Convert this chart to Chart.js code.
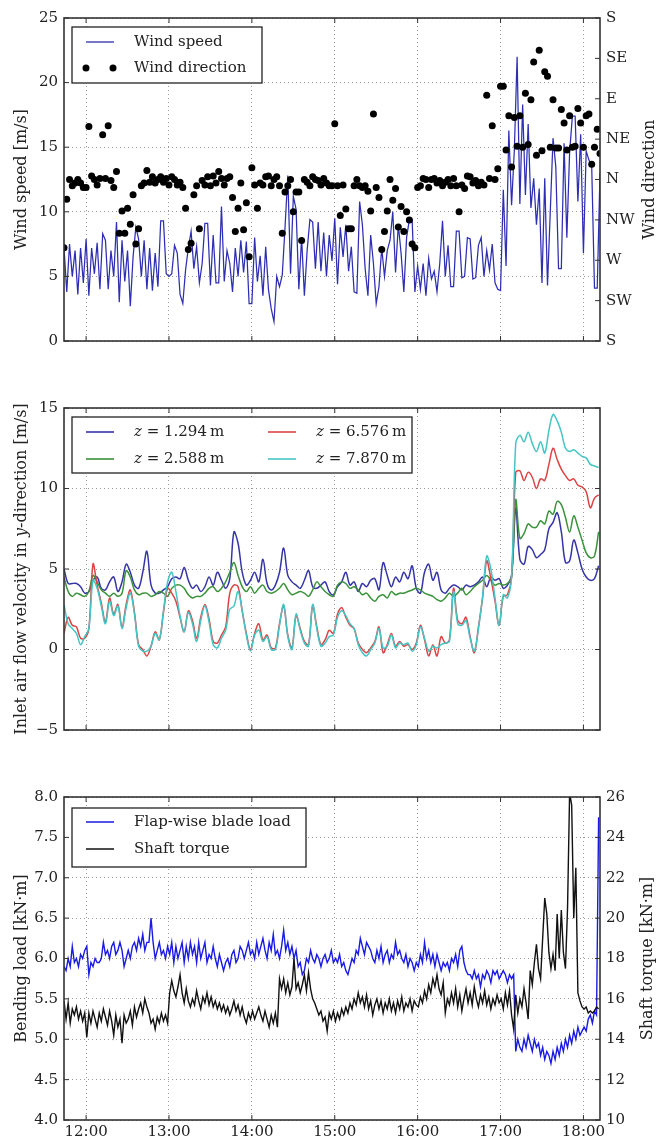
<!DOCTYPE html>
<html>
<head>
<meta charset="utf-8">
<script src="https://cdn.jsdelivr.net/npm/chart.js@4/dist/chart.umd.min.js"></script>
<style>
  body { margin: 0; background: #fff; width: 665px; height: 1138px; position: relative; overflow: hidden; }
  canvas { position: absolute; left: 0; }
</style>
</head>
<body>
<canvas id="wind" width="665" height="360" style="top:0px"></canvas>
<canvas id="flow" width="665" height="370" style="top:380px"></canvas>
<canvas id="load" width="665" height="358" style="top:780px"></canvas>
<script>
// all series start at 11:44
const startTime = '11:44';
const hourTicks = [12, 13, 14, 15, 16, 17, 18];
const dirLabels = ['S', 'SW', 'W', 'NW', 'N', 'NE', 'E', 'SE', 'S'];

// --- wind: one sample every 2 min ---
const windStepMin = 2;
const windSpeed = [
  7.2, 3.8, 7.5, 5.0, 7.0, 3.6, 7.2, 4.5, 7.9, 3.5, 7.2, 5.2, 7.6, 4.0, 8.3, 7.8, 4.0, 7.0, 5.0, 9.2,
  3.0, 7.8, 4.6, 7.0, 2.7, 6.5, 8.8, 7.9, 5.0, 7.8, 4.0, 7.2, 3.9, 6.8, 4.2, 9.3, 9.3, 5.2,
  5.0, 5.2, 7.4, 6.8, 3.6, 2.9, 5.5, 7.2, 8.5, 5.6, 7.3, 4.5, 6.0, 9.1, 9.1, 4.3, 8.2, 4.5, 4.5, 10.4,
  4.6, 7.0, 6.0, 3.8, 7.2, 5.0, 7.8, 5.3, 7.7, 2.9,
  2.9, 8.0, 4.6, 6.6, 3.5, 7.3, 4.0, 2.5, 1.5, 5.0, 4.2, 5.1, 8.8, 12.8, 5.2, 11.2, 10.2, 4.0, 8.0, 3.5,
  7.0, 9.4, 9.2, 5.6, 9.2, 5.4, 8.4, 5.0, 8.2, 6.2,
  9.5, 4.4, 8.8, 6.5, 9.0, 5.4, 7.3, 3.8, 3.7, 10.8, 9.0, 5.6, 3.5, 8.2, 6.0, 2.9, 4.2, 7.2, 5.0, 7.0,
  7.8, 10.0, 5.3, 9.0, 6.8, 3.8, 8.0, 9.4, 9.4, 3.8,
  5.8, 4.0, 6.0, 3.5, 6.4, 4.8, 5.4, 3.8, 6.0, 9.3, 5.0, 7.4, 4.2, 4.2, 8.5, 8.5, 4.9, 5.0, 8.0, 7.9,
  4.8, 4.9, 7.4, 8.0, 5.0, 7.0, 5.5, 7.5, 4.5, 4.0,
  3.9, 11.7, 5.8, 16.3, 10.5, 14.8, 22.0, 10.6, 18.3, 11.3, 16.8, 10.3, 12.6, 9.0, 11.8, 4.5, 12.6, 4.3, 10.0, 15.7,
  13.5, 5.6, 5.6, 15.3, 8.0, 14.6, 17.4, 17.4, 10.8, 16.0, 6.8, 14.7, 14.0, 13.5, 4.1, 4.1, 13.0
];
// degrees from north, positive towards east (S = +/-180)
const windDir = [
  -76, -22, 0, -7, -4, 0, -4, -9, -9, 59,
  4, 0, -6, 1, 50, 1, 60, -1, -9, 9,
  -60, -35, -60, -32, -50, -17, -72, -55, -7, -4,
  10, -3, 3, -4, 0, 3, -3, 1, -6, 3,
  0, -6, -3, -9, -32, -78, -71, -17, -7, -55,
  -1, -6, 3, -7, 4, -4, 9, 1, -6, 1,
  3, -20, -58, -32, -4, -56, -26, -86, 13, -6,
  -32, -4, -6, 3, 4, -7, 0, 3, -7, -60,
  -14, -7, 0, -36, -14, -14, -68, 0, -3, -7,
  3, 0, -1, -6, 1, -4, -7, -7, 62, -7,
  -40, -6, -33, -55, -55, -7, 0, -7, -9, -7,
  -13, -35, 73, -9, -20, -78, -58, -35, 0, -23,
  -10, -53, -30, -58, -36, -45, -72, -76, -9, -7,
  1, 0, -9, 0, 1, -4, -1, -7, -3, 0,
  -7, 1, -7, -36, -6, -10, 4, 3, -4, -1,
  -7, -3, -6, 94, 1, 60, 0, 12, 104, 104,
  33, 71, 14, 69, 37, 71, 36, 96, 39, 89,
  131, 27, 144, 32, 120, 115, 36, 89, 35, 35,
  78, 63, 33, 71, 36, 37, 79, 63, 36, 71,
  73, 17, 36, 56, 29
];

// --- inlet flow: one sample every 3 min ---
const flowStepMin = 3;
const flowZ1 = [
  5.0, 4.1, 4.1, 4.1, 3.9, 3.5, 3.6, 4.3, 4.5, 3.8, 3.7, 4.2, 4.5, 3.6, 4.2, 5.3, 4.8, 4.0, 3.8, 4.8,
  6.1, 4.0, 3.5, 3.5, 3.7, 3.9, 4.4, 4.5, 4.4, 5.1, 4.3, 3.8, 4.0, 3.6, 3.9, 4.5, 4.0, 4.8, 4.3, 3.8,
  4.4, 7.3, 6.6, 4.8, 4.0, 4.3, 4.8, 4.2, 5.6, 4.1, 3.7, 4.0, 4.8, 6.3, 4.6, 4.2, 4.0, 3.8, 4.3, 4.9,
  3.9, 3.8, 4.0, 4.2, 3.6, 3.4, 3.9, 4.2, 4.8, 4.0, 4.2, 3.6, 4.1, 3.9, 4.3, 4.4, 3.7, 5.4, 4.6, 3.9,
  4.5, 4.2, 4.8, 4.4, 5.2, 3.8, 3.5, 4.8, 5.3, 4.3, 4.8, 3.7, 3.5, 3.8, 4.0, 3.9, 3.7, 4.0, 3.9, 4.0,
  4.2, 4.5, 3.9, 4.5, 4.3, 4.4, 3.8, 4.0, 4.6, 8.8, 5.6, 5.3, 6.4, 6.2, 5.7, 5.9, 6.2, 7.5, 7.9, 8.5,
  7.3, 5.4, 5.5, 6.8, 6.0, 5.0, 4.5, 4.3, 4.4, 5.2
];
const flowZ2 = [
  4.5, 3.6, 3.3, 3.5, 3.4, 3.3, 3.6, 4.6, 4.2, 3.7, 3.5, 3.3, 3.5, 3.3, 3.5, 4.9, 4.5, 3.7, 3.4, 3.5,
  3.5, 3.3, 3.4, 3.6, 3.5, 3.3, 3.8, 4.0, 4.0, 3.8, 3.4, 3.2, 3.3, 3.3, 3.5, 3.8, 3.9, 3.6, 3.8, 4.2,
  4.8, 5.4, 4.6, 3.9, 3.6, 3.9, 3.5, 3.8, 4.0, 3.6, 3.5, 3.6, 3.8, 4.1, 3.7, 3.4, 3.5, 3.6, 3.5, 3.3,
  3.7, 4.2, 3.9, 3.6, 3.4, 3.3, 4.0, 4.2, 4.1, 3.8, 3.9, 3.7, 3.4, 3.5, 3.2, 3.0, 3.3, 3.4, 3.2, 3.6,
  3.4, 3.5, 3.5, 3.6, 3.7, 3.8, 3.7, 3.5, 3.4, 3.3, 3.1, 3.0, 3.2, 3.5, 3.3, 3.5, 3.8, 3.4, 3.6, 3.9,
  4.1, 4.3, 4.6, 4.3, 4.0, 4.1, 4.0, 4.1, 4.5, 9.3, 6.9, 7.2, 7.8, 7.6, 7.6, 8.0, 7.8, 8.6, 8.4, 9.2,
  9.0, 8.2, 7.3, 8.3, 7.6, 6.8, 6.0, 5.7, 5.8, 7.3
];
const flowZ3 = [
  1.0, 2.0, 1.5, 1.4, 0.7, 0.7, 1.3, 5.3, 4.0, 2.9, 1.7, 3.2, 2.2, 2.8, 1.4, 2.8, 3.7, 2.3, 0.3, 0.0,
  -0.4, 0.2, 1.1, 0.6, 2.3, 3.8, 3.5, 3.0, 2.0, 1.1, 2.4, 1.8, 0.7, 2.0, 2.8, 1.9, 0.5, 0.4, 0.9, 1.4,
  3.5, 4.0, 3.9, 2.4, 1.0, 0.0, 1.0, 1.6, 0.6, 0.9, 0.1, 0.1, 1.6, 2.7, 0.9, 0.1, 2.1, 1.3, 0.5, 0.3,
  2.7, 1.4, 0.3, 0.6, 1.2, 1.0, 2.2, 2.6, 2.0, 1.5, 1.3, 0.4, 0.0, -0.2, 0.1, 0.5, 1.4, -0.2, 0.3, 1.0,
  0.2, 0.5, 0.2, 0.3, 0.0, 0.4, 1.5, 0.6, -0.4, 0.3, -0.4, 0.8, 0.4, 0.6, 3.8, 1.8, 1.6, 2.0, 0.8, -0.2,
  1.4, 3.2, 5.5, 4.4, 3.0, 1.5, 3.3, 3.4, 4.5, 11.0, 11.1, 10.5, 11.0, 10.7, 10.0, 10.6, 10.5, 11.5, 12.5, 11.8,
  11.2, 10.8, 10.5, 10.6, 10.2, 10.1, 9.8, 8.8, 9.4, 9.6
];
const flowZ4 = [
  2.8, 1.6, 1.3, 1.0, 0.3, 0.8, 1.3, 4.3, 3.8, 2.7, 1.6, 3.0, 2.1, 2.7, 1.3, 2.6, 3.5, 2.2, 0.2, -0.1,
  -0.1, 0.2, 1.0, 0.6, 2.4, 4.2, 4.8, 3.6, 2.1, 1.1, 2.3, 1.6, 0.5, 1.8, 2.7, 1.7, 0.3, 0.1, 0.7, 1.2,
  2.5, 2.7, 3.6, 2.4, 0.9, -0.1, 0.9, 1.2, 0.5, 0.8, 0.0, 0.0, 1.5, 2.8, 0.8, 0.0, 2.2, 1.2, 0.4, 0.2,
  2.8, 1.3, 0.2, 0.4, 0.8, 0.9, 2.0, 2.4, 2.1, 1.6, 1.3, 0.3, -0.2, -0.4, 0.0, 0.4, 1.3, 0.1, 0.2, 0.9,
  0.1, 0.4, 0.3, 0.4, -0.1, 0.3, 1.4, 0.7, -0.1, 0.2, 0.1, 0.3, 0.4, 0.5, 3.6, 1.6, 1.5, 1.8, 0.7, -0.1,
  1.3, 3.3, 5.8, 5.0, 3.2, 1.5, 3.4, 3.2, 4.5, 12.8, 13.3, 12.9, 13.5, 12.8, 12.3, 12.9, 12.2, 13.6, 14.6, 14.2,
  13.5, 12.5, 12.3, 12.4, 12.2, 12.0, 11.9, 11.5, 11.4, 11.3
];
const flowLabels = ['1.294', '2.588', '6.576', '7.870'];

// --- loads: one sample every 1.5 min ---
const loadStepMin = 1.5;
const bladeLoad = [
  5.9, 5.85, 6.0, 5.9, 6.15, 5.95, 6.0, 5.9, 6.05, 6.0, 6.1,
  6.15, 5.8, 5.95, 5.9, 6.0, 5.95, 5.95, 6.0, 6.2, 6.05, 6.1, 6.0, 6.15, 6.2, 6.05, 6.1, 6.2, 6.1, 5.9, 6.0,
  6.1, 6.0, 6.15, 6.2, 6.1, 6.25, 6.15, 6.3, 6.1, 6.2, 6.2, 6.5, 6.2, 6.0, 6.1, 6.2, 6.05, 6.1, 6.0, 6.15,
  6.05, 6.2, 5.95, 6.15, 6.0, 6.1, 6.2, 5.95, 6.15, 6.0, 6.2, 6.05, 6.15, 5.95, 6.2, 6.0, 6.1, 6.2, 5.95, 6.05,
  6.0, 6.15, 6.0, 5.9, 6.05, 5.95, 5.85, 5.95, 6.0, 5.9, 6.05, 6.1, 5.95, 6.0, 6.15, 6.1, 6.0, 6.1, 6.2, 6.05,
  6.1, 6.0, 6.2, 6.05, 6.15, 6.25, 6.1, 6.0, 6.2, 6.1, 6.3, 6.05, 6.1, 6.0, 6.15, 6.35, 6.1, 6.2, 6.05, 6.15,
  6.0, 6.1, 5.9, 5.95, 5.8, 5.85, 6.0, 5.95, 6.1, 6.0, 5.95, 6.05, 6.0, 5.9, 6.0, 6.05, 5.95, 6.0, 6.1, 5.95,
  6.0, 5.95, 6.05, 5.9, 5.95, 5.85, 5.8, 5.9, 6.0, 5.95, 6.1, 6.05, 6.25, 6.15, 6.05, 6.2, 6.15, 6.1, 6.0, 5.95,
  6.1, 6.0, 6.15, 5.95, 6.05, 6.1, 5.95, 6.05, 6.0, 6.2, 6.05, 6.1, 6.0, 5.95, 6.05, 5.9, 6.0, 5.95, 5.85, 5.95,
  5.9, 6.05, 5.95, 6.2, 6.0, 6.1, 5.95, 6.05, 5.9, 6.05, 5.95, 5.85, 5.95, 5.9, 5.95, 5.85, 6.0, 5.95, 6.05, 5.9,
  6.1, 6.15, 5.95, 5.85, 5.8, 5.8, 5.75, 5.85, 5.75, 5.8, 5.65, 5.8, 5.75, 5.85, 5.8, 5.7, 5.85, 5.8, 5.85, 5.75,
  5.8, 5.85, 5.8, 5.7, 5.8, 5.75, 5.8, 4.85, 5.0, 4.9, 4.85, 5.0, 4.9, 5.05, 4.95, 4.85, 5.0, 4.9, 4.95, 4.8,
  4.9, 4.75, 4.85, 4.8, 4.7, 4.85, 4.75, 4.9, 4.8, 4.95, 4.85, 5.0, 4.9, 5.05, 4.95, 5.1, 5.0, 5.15, 5.05, 5.1,
  5.15, 5.1, 5.25, 5.3, 5.2, 5.35, 5.3, 7.75
];
const shaftTorque = [
  15.9, 15.0, 15.8, 14.8, 15.5, 15.2, 15.6, 15.0, 15.4, 14.9, 15.3,
  14.1, 15.3, 14.8, 15.4, 15.0, 14.6, 15.3, 14.9, 15.5, 15.1, 14.7, 15.4, 14.9, 14.2, 15.2, 14.6, 15.0, 13.8, 15.2, 14.8,
  15.0, 15.4, 14.7, 15.6, 15.1, 15.5, 15.8, 15.3, 16.0, 15.6, 15.3, 14.8, 15.0, 14.5, 15.1, 14.8, 15.3, 14.9, 15.2, 14.8,
  16.3, 16.9, 16.4, 16.1, 16.6, 17.2, 16.3, 15.8, 16.5, 15.9, 15.6, 16.0, 15.7, 16.4, 15.9, 15.5, 16.1, 15.8, 16.3, 15.7,
  16.1, 15.6, 15.9, 15.5, 15.8, 15.4, 15.7, 15.3, 15.6, 15.2, 15.5, 15.9, 15.4, 15.7, 15.2, 15.6, 15.1, 14.8, 15.3, 15.0,
  15.4, 15.0, 15.3, 15.6, 15.2, 14.9, 15.4, 15.0, 14.6, 15.2, 14.8, 15.3, 14.6, 17.0, 16.5, 17.0, 16.3, 16.8, 16.2, 16.6,
  18.0, 16.5, 16.8, 16.3, 16.7, 17.2, 16.4, 17.3, 16.5, 16.0, 15.8, 15.5, 15.2, 15.4, 14.9, 15.1, 14.4, 15.3, 15.0, 15.4,
  14.9, 15.3, 15.0, 15.5, 15.2, 15.6, 15.3, 15.8, 15.5, 16.0, 15.7, 16.3, 15.8, 16.1, 15.6, 16.2, 15.5, 15.9, 15.2, 15.7,
  16.0, 15.5, 15.9, 15.3, 15.8, 15.5, 16.0, 15.4, 15.8, 15.3, 15.9, 15.5, 16.1, 15.4, 15.8, 15.6, 16.0, 15.4, 15.9, 15.7,
  15.6, 16.1, 15.8, 16.4, 16.0, 16.7, 16.3, 17.0, 16.6, 17.2, 16.5, 16.2, 16.8, 15.3, 16.0, 15.7, 16.3, 15.8, 16.5, 15.6,
  16.2, 15.4, 16.0, 16.5, 15.8, 16.3, 15.7, 16.6, 16.0, 15.6, 16.2, 15.8, 16.4, 15.7, 16.1, 15.5, 16.0, 15.7, 16.2, 15.8,
  16.0, 15.5, 16.3, 15.7, 16.4, 15.2, 14.5, 16.2, 15.3, 16.0, 15.6, 16.5, 15.8, 15.0, 17.4, 16.7, 17.8, 18.7, 17.5, 17.0,
  19.0, 21.0, 20.2, 18.3, 17.5, 18.2, 17.4, 20.2, 18.0, 20.4, 18.3, 17.5, 20.5, 26.2, 25.6, 20.0, 22.5, 16.3, 15.9, 15.6,
  15.5, 15.6, 15.3, 15.4, 15.3, 15.4, 15.6, 15.5
];

const FONT = '"DejaVu Serif", serif';
const TEXT = '#222';

function startHours() {
  const [h, m] = startTime.split(':').map(Number);
  return h + m / 60;
}

function series(values, stepMin) {
  const t0 = startHours();
  return values.map((v, i) => ({ x: t0 + i * stepMin / 60, y: v }));
}

// draws a run of text pieces, some in italic
function drawParts(ctx, parts, x, y, size, center) {
  const fontOf = p => (p[1] ? 'italic ' : '') + size + 'px ' + FONT;
  let total = 0;
  parts.forEach(p => { ctx.font = fontOf(p); total += ctx.measureText(p[0]).width; });
  let cx = center ? x - total / 2 : x;
  parts.forEach(p => {
    ctx.font = fontOf(p);
    ctx.fillText(p[0], cx, y);
    cx += ctx.measureText(p[0]).width;
  });
}

// frame, inward ticks, axis titles and the boxed legend, matplotlib style
const decor = {
  id: 'decor',
  afterDraw(chart, args, opts) {
    const { ctx, chartArea: a } = chart;
    ctx.save();
    ctx.strokeStyle = '#333';
    ctx.lineWidth = 1;
    const seg = (x1, y1, x2, y2) => { ctx.beginPath(); ctx.moveTo(x1, y1); ctx.lineTo(x2, y2); ctx.stroke(); };

    const xs = chart.scales.x;
    xs.ticks.forEach(t => {
      const px = xs.getPixelForValue(t.value);
      seg(px, a.bottom, px, a.bottom - 5);
      seg(px, a.top, px, a.top + 5);
    });
    const yl = chart.scales.y;
    yl.ticks.forEach(t => {
      const py = yl.getPixelForValue(t.value);
      seg(a.left, py, a.left + 5, py);
      if (!chart.scales.y2) seg(a.right, py, a.right - 5, py);
    });
    if (chart.scales.y2) {
      const yr = chart.scales.y2;
      yr.ticks.forEach(t => {
        const py = yr.getPixelForValue(t.value);
        seg(a.right, py, a.right - 5, py);
      });
    }

    ctx.lineWidth = 1.6;
    ctx.strokeRect(a.left, a.top, a.right - a.left, a.bottom - a.top);

    ctx.fillStyle = TEXT;
    ctx.textBaseline = 'middle';
    opts.titles.forEach(t => {
      ctx.save();
      ctx.translate(t.x, (a.top + a.bottom) / 2);
      ctx.rotate(-Math.PI / 2);
      drawParts(ctx, t.parts, 0, 0, 16, true);
      ctx.restore();
    });

    const L = opts.legend;
    ctx.fillStyle = '#fff';
    ctx.fillRect(L.box[0], L.box[1], L.box[2], L.box[3]);
    ctx.strokeStyle = '#222';
    ctx.lineWidth = 1.3;
    ctx.strokeRect(L.box[0], L.box[1], L.box[2], L.box[3]);
    L.items.forEach(it => {
      if (it.dots) {
        ctx.fillStyle = it.color;
        [it.x, it.x + 27].forEach(dx => {
          ctx.beginPath(); ctx.arc(dx, it.y, 3.5, 0, Math.PI * 2); ctx.fill();
        });
      } else {
        ctx.strokeStyle = it.color;
        ctx.lineWidth = it.width;
        seg(it.x, it.y, it.x + 28, it.y);
      }
      ctx.fillStyle = TEXT;
      drawParts(ctx, it.parts, it.x + 48, it.y, 15, false);
    });
    ctx.restore();
  }
};

function xAxis(height, showLabels) {
  return {
    type: 'linear',
    min: startHours(),
    max: 18.2,
    afterBuildTicks: s => { s.ticks = hourTicks.map(v => ({ value: v })); },
    afterFit: s => { s.height = height; },
    grid: { color: '#9a9a9a', lineWidth: 1, drawTicks: false },
    border: { display: false, dash: [1, 3] },
    ticks: {
      display: showLabels, padding: 3, maxRotation: 0, autoSkip: false,
      color: TEXT, font: { family: FONT, size: 15 },
      callback: v => v + ':00'
    }
  };
}

function leftAxis(min, max, step, fmt) {
  return {
    position: 'left', min, max,
    afterFit: s => { s.width = 64; },
    grid: { color: '#9a9a9a', lineWidth: 1, drawTicks: false },
    border: { display: false, dash: [1, 3] },
    ticks: { stepSize: step, padding: 6, color: TEXT, font: { family: FONT, size: 15 }, callback: fmt }
  };
}

function rightAxis(min, max, step, fmt) {
  return {
    position: 'right', min, max,
    afterFit: s => { s.width = 65; },
    grid: { display: false, drawTicks: false },
    border: { display: false },
    ticks: { stepSize: step, padding: 6, color: TEXT, font: { family: FONT, size: 15 }, callback: fmt }
  };
}

Chart.register(decor);

// wind speed and direction
new Chart(document.getElementById('wind'), {
  type: 'line',
  data: {
    datasets: [
      {
        type: 'scatter', data: series(windDir, windStepMin), yAxisID: 'y2', order: 1,
        pointRadius: 3.5, pointBorderWidth: 0, pointBackgroundColor: '#000', showLine: false
      },
      {
        data: series(windSpeed, windStepMin), yAxisID: 'y', order: 2,
        borderColor: '#2e2eb4', borderWidth: 1.25, pointRadius: 0, tension: 0
      }
    ]
  },
  options: {
    responsive: false, animation: false, events: [],
    layout: { padding: { top: 18, left: 0, right: 0, bottom: 0 } },
    plugins: {
      legend: { display: false }, tooltip: { enabled: false },
      decor: {
        titles: [
          { x: 22, parts: [['Wind speed [m/s]']] },
          { x: 650, parts: [['Wind direction']] }
        ],
        legend: {
          box: [72, 27, 190, 56],
          items: [
            { x: 86, y: 42, color: '#2e2eb4', width: 1.3, parts: [['Wind speed']] },
            { x: 86, y: 68, color: '#000', dots: true, parts: [['Wind direction']] }
          ]
        }
      }
    },
    scales: {
      x: xAxis(19, false),
      y: leftAxis(0, 25, 5, v => v),
      y2: rightAxis(-180, 180, 45, v => dirLabels[Math.round((v + 180) / 45)])
    }
  }
});

// inlet air flow velocity
const flowColors = ['#3535a8', '#3a923a', '#dc4444', '#45c5c5'];
const flowSeries = [flowZ1, flowZ2, flowZ3, flowZ4];
new Chart(document.getElementById('flow'), {
  type: 'line',
  data: {
    datasets: flowSeries.map((vals, k) => ({
      data: series(vals, flowStepMin), order: 4 - k,
      borderColor: flowColors[k], borderWidth: 1.5, pointRadius: 0, tension: 0.35
    }))
  },
  options: {
    responsive: false, animation: false, events: [],
    layout: { padding: { top: 28, left: 0, right: 65, bottom: 0 } },
    plugins: {
      legend: { display: false }, tooltip: { enabled: false },
      decor: {
        titles: [
          { x: 22, parts: [['Inlet air flow velocity in '], ['y', true], ['-direction [m/s]']] }
        ],
        legend: {
          box: [72, 37, 340, 56],
          items: flowLabels.map((lab, k) => ({
            x: k < 2 ? 86 : 268, y: k % 2 === 0 ? 52 : 79,
            color: flowColors[k], width: 1.6,
            parts: [['z', true], [' = ' + lab + '\u2009m']]
          }))
        }
      }
    },
    scales: {
      x: xAxis(20, false),
      y: leftAxis(-5, 15, 5, v => (v < 0 ? '\u2212' + Math.abs(v) : v))
    }
  }
});

// blade load and shaft torque
new Chart(document.getElementById('load'), {
  type: 'line',
  data: {
    datasets: [
      {
        data: series(shaftTorque, loadStepMin), yAxisID: 'y2', order: 1,
        borderColor: '#111', borderWidth: 1.4, pointRadius: 0, tension: 0
      },
      {
        data: series(bladeLoad, loadStepMin), yAxisID: 'y', order: 2,
        borderColor: '#1a1ae6', borderWidth: 1.4, pointRadius: 0, tension: 0
      }
    ]
  },
  options: {
    responsive: false, animation: false, events: [],
    layout: { padding: { top: 17, left: 0, right: 0, bottom: 0 } },
    plugins: {
      legend: { display: false }, tooltip: { enabled: false },
      decor: {
        titles: [
          { x: 22, parts: [['Bending load [kN\u00b7m]']] },
          { x: 648, parts: [['Shaft torque [kN\u00b7m]']] }
        ],
        legend: {
          box: [72, 28, 234, 59],
          items: [
            { x: 86, y: 42, color: '#1a1ae6', width: 1.5, parts: [['Flap-wise blade load']] },
            { x: 86, y: 69, color: '#111', width: 1.5, parts: [['Shaft torque']] }
          ]
        }
      }
    },
    scales: {
      x: xAxis(18, true),
      y: leftAxis(4, 8, 0.5, v => v.toFixed(1)),
      y2: rightAxis(10, 26, 2, v => v)
    }
  }
});
</script>
</body>
</html>
